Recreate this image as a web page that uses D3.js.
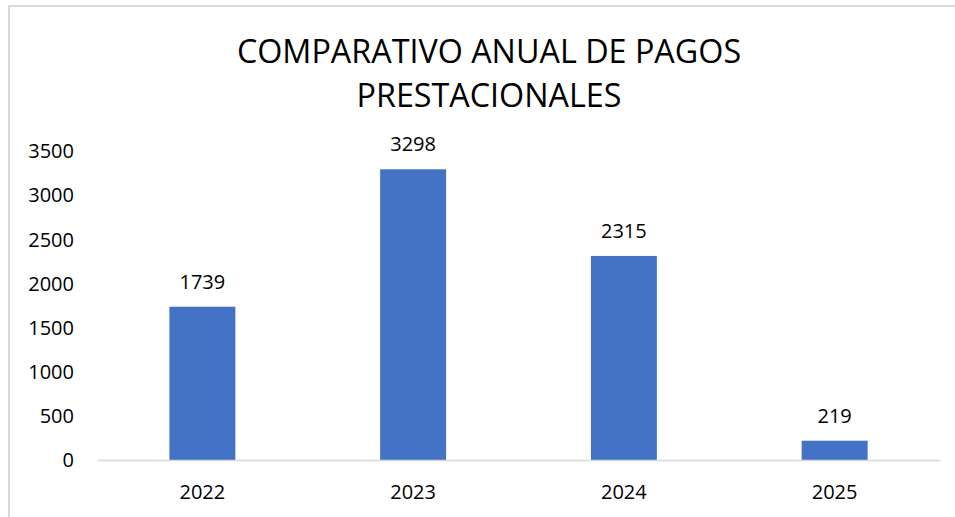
<!DOCTYPE html>
<html>
<head>
<meta charset="utf-8">
<script src="https://cdn.jsdelivr.net/npm/d3@7"></script>
<style>
  body { margin: 0; background: #fff; }
  svg text { font-family: "Open Sans", "Noto Sans", sans-serif; fill: #000; }
</style>
</head>
<body>
<script>
// Chart data
var years = ["2022", "2023", "2024", "2025"];
var pagos = [1739, 3298, 2315, 219];
var yTicks = [0, 500, 1000, 1500, 2000, 2500, 3000, 3500];
var titleLines = ["COMPARATIVO ANUAL DE PAGOS", "PRESTACIONALES"];

var width = 955, height = 517;

var svg = d3.select("body").append("svg")
    .attr("width", width)
    .attr("height", height);

// Outer chart frame (only top and left edges are visible in the crop)
svg.append("rect")
    .attr("x", 9)
    .attr("y", 6)
    .attr("width", 990)
    .attr("height", 560)
    .attr("fill", "none")
    .attr("stroke", "#d9d9d9")
    .attr("stroke-width", 2);

// Title
svg.append("g").selectAll("text")
    .data(titleLines)
    .enter().append("text")
    .attr("x", 489)
    .attr("y", function (d, i) { return 63 + i * 44; })
    .attr("text-anchor", "middle")
    .style("font-size", "32.3px")
    .text(function (d) { return d; });

// Scales
var x = d3.scaleBand()
    .domain(years)
    .range([97, 940])
    .paddingInner(0.687)
    .paddingOuter(0.3435);

var y = d3.scaleLinear()
    .domain([0, 3500])
    .range([460, 151.5]);

// Y axis labels (no axis line, no gridlines)
var yAxis = d3.axisLeft(y).tickValues(yTicks).tickFormat(d3.format("d")).tickSize(0).tickPadding(0);
var yg = svg.append("g")
    .attr("transform", "translate(74,0)")
    .call(yAxis);
yg.select(".domain").remove();
yg.selectAll("text")
    .style("font-size", "20px")
    .style("font-family", "'Open Sans', sans-serif")
    .attr("fill", "#000");

// Bars
svg.append("g").selectAll("rect")
    .data(pagos)
    .enter().append("rect")
    .attr("x", function (d, i) { return x(years[i]); })
    .attr("y", function (d) { return y(d); })
    .attr("width", x.bandwidth())
    .attr("height", function (d) { return y(0) - y(d); })
    .attr("fill", "#4472c4");

// Value labels above bars
svg.append("g").selectAll("text")
    .data(pagos)
    .enter().append("text")
    .attr("x", function (d, i) { return x(years[i]) + x.bandwidth() / 2; })
    .attr("y", function (d) { return y(d) - 18; })
    .attr("text-anchor", "middle")
    .style("font-size", "20px")
    .text(function (d) { return d; });

// X axis: baseline plus category labels
var xAxis = d3.axisBottom(x).tickSize(0).tickPadding(0);
var xg = svg.append("g")
    .attr("transform", "translate(0," + y(0) + ")")
    .call(xAxis);
xg.select(".domain")
    .attr("stroke", "#d9d9d9")
    .attr("stroke-width", 1.5);
xg.selectAll("text")
    .attr("dy", null)
    .attr("y", 39)
    .style("font-size", "20px")
    .style("font-family", "'Open Sans', sans-serif")
    .attr("fill", "#000");
</script>
</body>
</html>
